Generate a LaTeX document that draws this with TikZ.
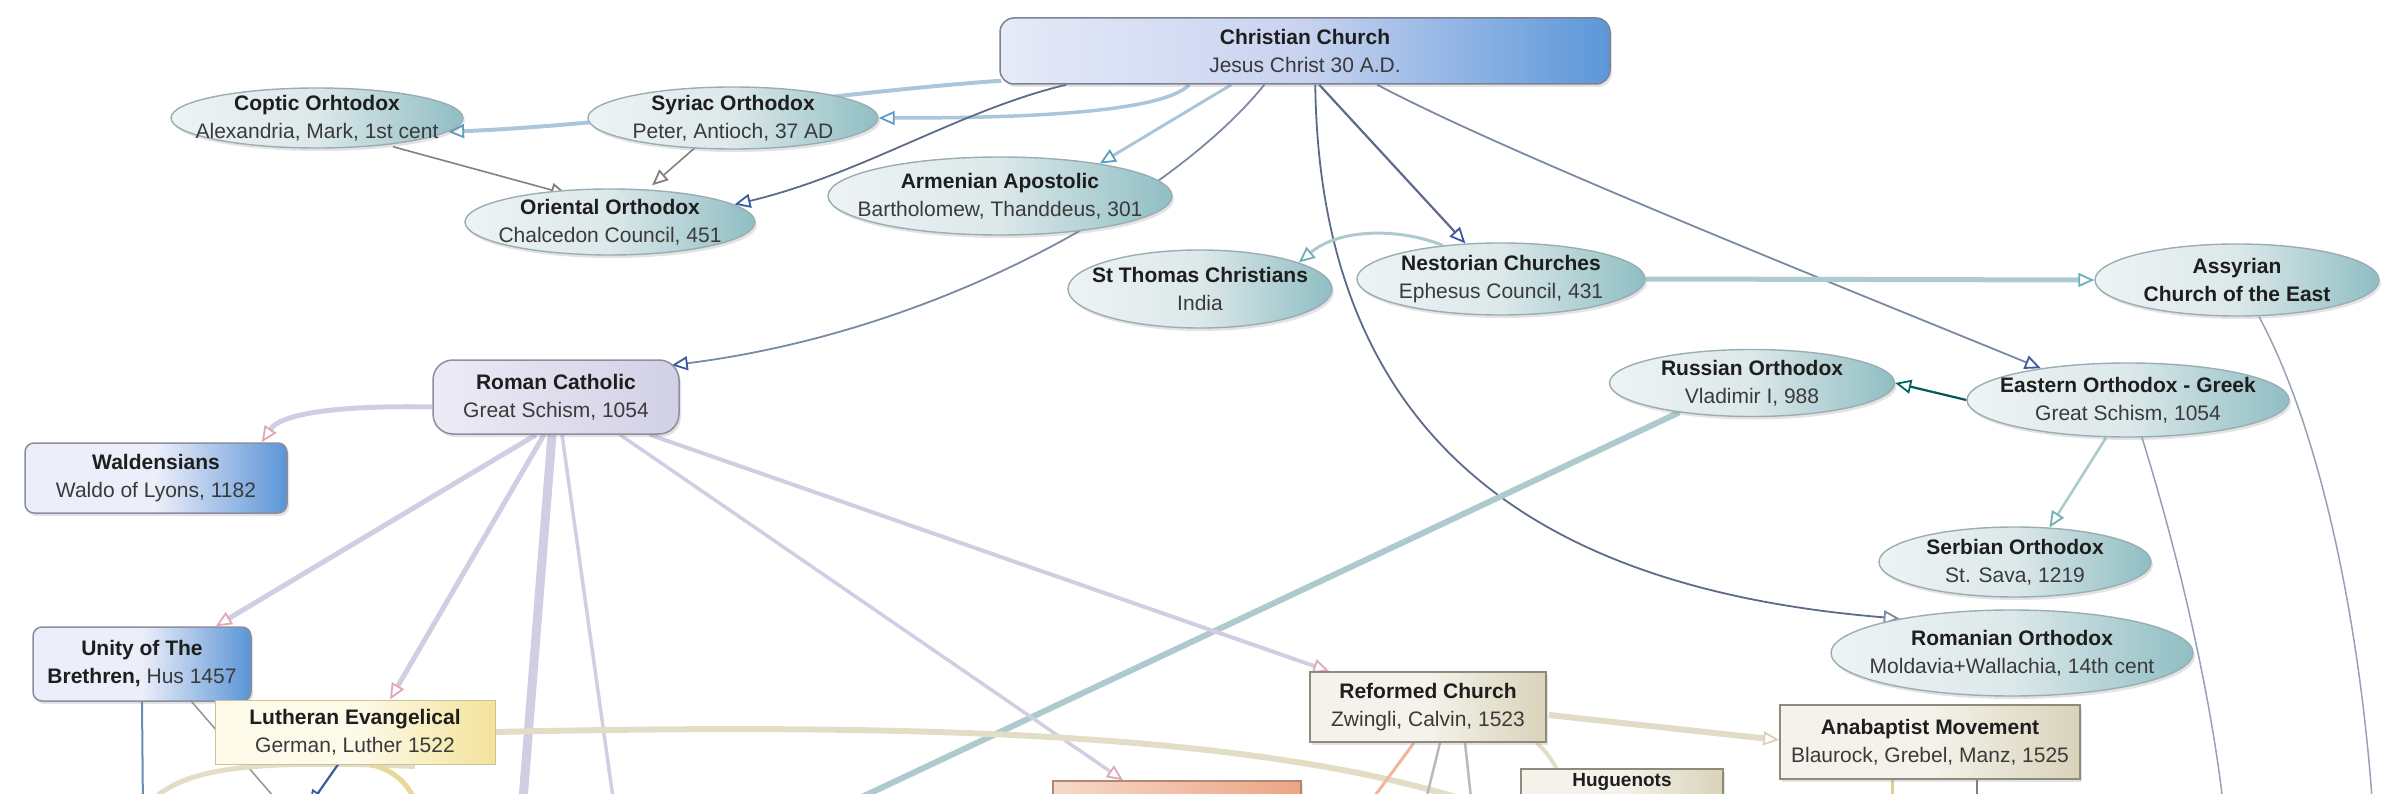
\documentclass[tikz,border=0pt]{standalone}
\usepackage{fontspec}
\setmainfont{Liberation Sans}
\usetikzlibrary{arrows.meta,shapes.geometric,shadows,calc}
\pgfdeclarelayer{bg}
\pgfsetlayers{bg,main}
\definecolor{ellL}{HTML}{EEF3F4}
\definecolor{ellM}{HTML}{DCE8EA}
\definecolor{ellR}{HTML}{8FBEC3}
\definecolor{ellB}{HTML}{9AADB2}
\definecolor{ccL}{HTML}{E6EAF8}
\definecolor{ccM}{HTML}{C8D3F0}
\definecolor{ccR}{HTML}{5B97D9}
\definecolor{ccB}{HTML}{7C8194}
\definecolor{rcL}{HTML}{ECEBF5}
\definecolor{rcR}{HTML}{D2D0E6}
\definecolor{rcB}{HTML}{8E8EA2}
\definecolor{blL}{HTML}{ECEEF9}
\definecolor{blR}{HTML}{5A95D6}
\definecolor{blB}{HTML}{8A8EA0}
\definecolor{luL}{HTML}{FDFAEA}
\definecolor{luR}{HTML}{F3E39A}
\definecolor{luB}{HTML}{C9C29B}
\definecolor{rfL}{HTML}{F4F2EA}
\definecolor{rfR}{HTML}{D9D3BA}
\definecolor{rfB}{HTML}{8F8B7A}
\definecolor{saL}{HTML}{F7D8C8}
\definecolor{saR}{HTML}{ECA584}
\definecolor{saB}{HTML}{B08878}
\definecolor{txA}{HTML}{1E1E1E}
\definecolor{txB}{HTML}{3A3A3A}
\definecolor{lvE}{HTML}{D0CEE2}
\definecolor{pkT}{HTML}{E2A6BC}
\definecolor{tealE}{HTML}{ADCACE}
\definecolor{tealT}{HTML}{6FB0B6}
\definecolor{lbE}{HTML}{ABC5DA}
\definecolor{lbT}{HTML}{5A9DC6}
\definecolor{dkE}{HTML}{5D6A8A}
\definecolor{dkT}{HTML}{3A5A9E}
\definecolor{gyE}{HTML}{7B8AA3}
\definecolor{bgE}{HTML}{E2DEC6}
\newcommand\ttl[2]{{\bfseries\color{txA}#1}\\{\color{txB}#2}}
\begin{document}
\begin{tikzpicture}[x=1pt,y=-1pt,
  shd/.style={drop shadow={shadow xshift=2pt,shadow yshift=-3pt,opacity=.22}},
  ell/.style={ellipse,draw=ellB,line width=1.4pt,left color=ellL,right color=ellR,middle color=ellM,inner sep=0pt,shd},
  txt/.style={align=center,inner sep=0pt,font=\fontsize{21}{28}\selectfont},
  ccbox/.style={rectangle,rounded corners=14pt,draw=ccB,line width=1.5pt,left color=ccL,right color=ccR,middle color=ccM,inner sep=0pt,shd,txt},
  rcbox/.style={rectangle,rounded corners=20pt,draw=rcB,line width=1.5pt,left color=rcL,right color=rcR,inner sep=0pt,shd,txt},
  blbox/.style={rectangle,rounded corners=9pt,draw=blB,line width=1.5pt,left color=blL,right color=blR,middle color=blL,inner sep=0pt,shd,txt},
  lubox/.style={rectangle,draw=luB,line width=1pt,left color=luL,right color=luR,middle color=luL,inner sep=0pt,txt},
  rfbox/.style={rectangle,draw=rfB,line width=1.5pt,left color=rfL,right color=rfR,middle color=rfL,inner sep=0pt,shd,txt},
  sabox/.style={rectangle,draw=saB,line width=1.5pt,left color=saL,right color=saR,inner sep=0pt,shd,txt},
  otip/.style={-{Triangle[length=16pt,width=14pt,line width=1.8pt,color=#1,fill=white]}},
  ln/.style 2 args={draw=#1,line width=#2},
]
\useasboundingbox (0,0) rectangle (2382,794);
\clip (0,0) rectangle (2382,794);
% ---------- nodes ----------
\node[ccbox,minimum width=610pt,minimum height=66pt] (cc) at (1305,51) {\ttl{Christian Church}{Jesus Christ 30 A.D.}};
\node[ell,minimum width=292pt,minimum height=60pt] (coptic) at (317,118) {};
\node[txt] (copticT) at (coptic) {\ttl{Coptic Orhtodox}{Alexandria, Mark, 1st cent}};
\node[ell,minimum width=290pt,minimum height=62pt] (syriac) at (733,118) {};
\node[txt] (syriacT) at (syriac) {\ttl{Syriac Orthodox}{Peter, Antioch, 37 AD}};
\node[ell,minimum width=290pt,minimum height=66pt] (oriental) at (610,222) {};
\node[txt] (orientalT) at (oriental) {\ttl{Oriental Orthodox}{Chalcedon Council, 451}};
\node[ell,minimum width=344pt,minimum height=78pt] (armenian) at (1000,196) {};
\node[txt] (armenianT) at (armenian) {\ttl{Armenian Apostolic}{Bartholomew, Thanddeus, 301}};
\node[ell,minimum width=264pt,minimum height=78pt] (stthomas) at (1200,289) {};
\node[txt] (stthomasT) at (stthomas) {\ttl{St Thomas Christians}{India}};
\node[ell,minimum width=288pt,minimum height=72pt] (nestorian) at (1501,279) {};
\node[txt] (nestorianT) at (nestorian) {\ttl{Nestorian Churches}{Ephesus Council, 431}};
\node[ell,minimum width=284pt,minimum height=72pt] (assyrian) at (2237,280) {};
\node[txt] (assyrianT) at (assyrian) {\ttl{Assyrian}{\bfseries\color{txA}Church of the East}};
\node[ell,minimum width=285pt,minimum height=67pt] (russian) at (1752,383) {};
\node[txt] (russianT) at (russian) {\ttl{Russian Orthodox}{Vladimir I, 988}};
\node[ell,minimum width=322pt,minimum height=74pt] (eastern) at (2128,400) {};
\node[txt] (easternT) at (eastern) {\ttl{Eastern Orthodox - Greek}{Great Schism, 1054}};
\node[ell,minimum width=272pt,minimum height=70pt] (serbian) at (2015,562) {};
\node[txt] (serbianT) at (serbian) {\ttl{Serbian Orthodox}{St. Sava, 1219}};
\node[ell,minimum width=362pt,minimum height=86pt] (romanian) at (2012,653) {};
\node[txt] (romanianT) at (romanian) {\ttl{Romanian Orthodox}{Moldavia+Wallachia, 14th cent}};
\node[rcbox,minimum width=246pt,minimum height=74pt] (rc) at (556,397) {\ttl{Roman Catholic}{Great Schism, 1054}};
\node[blbox,minimum width=262pt,minimum height=70pt] (wald) at (156,478) {\ttl{Waldensians}{Waldo of Lyons, 1182}};
\node[blbox,minimum width=218pt,minimum height=74pt] (unity) at (142,664) {{\bfseries\color{txA}Unity of The}\\{\bfseries\color{txA}Brethren,} {\color{txB}Hus 1457}};
\node[lubox,minimum width=280pt,minimum height=64pt] (luth) at (355,732) {\ttl{Lutheran Evangelical}{German, Luther 1522}};
\node[rfbox,minimum width=236pt,minimum height=70pt] (reformed) at (1428,707) {\ttl{Reformed Church}{Zwingli, Calvin, 1523}};
\node[rfbox,minimum width=300pt,minimum height=74pt] (anabap) at (1930,742) {\ttl{Anabaptist Movement}{Blaurock, Grebel, Manz, 1525}};
\node[sabox,minimum width=248pt,minimum height=72pt] (salmon) at (1177,817) {};
\node[rfbox,minimum width=202pt,minimum height=76pt] (hug) at (1622,807) {};
\node[txt,anchor=north,font=\fontsize{19}{24}\selectfont] (hugT) at (1622,773) {\bfseries\color{txA}Huguenots};
% free ends
\coordinate (eEnd) at (2224,812);
\coordinate (aEnd) at (2373,812);
\coordinate (rEnd) at (830,812);
\coordinate (rc1) at (522,812);
\coordinate (rc2) at (615,812);
\coordinate (luEnd) at (1512,816);
\coordinate (unV) at (143,812);
\coordinate (unD) at (292,818);
\coordinate (luA) at (309,806);
\coordinate (arcA) at (140,816);
\coordinate (arcB) at (421,816);
\coordinate (rf1) at (1360,816);
\coordinate (rf2) at (1422,816);
\coordinate (rf3) at (1473,816);
\coordinate (rf4) at (1570,816);
\coordinate (ab1) at (1892,816);
\coordinate (ab2) at (1977,816);
% ---------- connectors ----------
\begin{pgfonlayer}{bg}
\clip (0,0) rectangle (2382,794);
\draw[ln={lbE}{4pt},otip=lbT] ($(cc.south west)+(2,-4)$) .. controls (860,90) and (620,125) .. (coptic.-6);
\draw[ln={lbE}{3.5pt},otip=lbT] ($(cc.south west)+(190,0)$) .. controls (1160,115) and (1000,118) .. (syriac.east);
\draw[ln={dkE}{1.8pt},otip=dkT] ($(cc.south west)+(67,0)$) .. controls (960,110) and (860,175) .. (oriental.8);
\draw[ln={lbE}{3pt},otip=lbT] ($(cc.south west)+(232,0)$) -- (armenian.18);
\draw[ln={gyE}{1.8pt},otip=dkT] ($(cc.south west)+(265,0)$) .. controls (1180,190) and (950,330) .. ($(rc.north east)+(-8,6)$);
\draw[ln={dkE}{2.2pt},otip=dkT] ($(cc.south west)+(320,0)$) -- (nestorian.135);
\draw[ln={gyE}{1.8pt},otip=dkT] ($(cc.south west)+(378,0)$) .. controls (1500,150) and (1800,270) .. (eastern.160);
\draw[ln={dkE}{1.8pt},otip=gyE] ($(cc.south west)+(316,0)$) .. controls (1320,450) and (1550,590) .. (romanian.163);
% coptic / syriac to oriental
\draw[ln={gray}{1.6pt},otip=gray] ($(coptic.south)+(76,-2)$) -- ($(oriental.north west)+(60,-4)$);
\draw[ln={gray}{1.6pt},otip=gray] ($(syriac.south)+(-38,-2)$) -- ($(oriental.north)+(42,-3)$);
% nestorian branch
\draw[ln={tealE}{3pt},otip=tealT] (nestorian.150) .. controls (1400,228) and (1340,228) .. (stthomas.15);
\draw[ln={tealE}{5pt},otip=tealT] (nestorian.east) -- (assyrian.west);
% eastern branch
\draw[ln={teal!70!black}{2.2pt},otip=teal!80!black] (eastern.west) -- (russian.east);
\draw[ln={tealE}{2.6pt},otip=tealT] ($(eastern.south)+(-22,0)$) -- (serbian.45);
\draw[ln={gyE!80}{1.5pt}] ($(eastern.south)+(14,0)$) .. controls (2180,560) and (2212,700) .. (eEnd);
\draw[ln={gyE!80}{1.5pt}] ($(assyrian.south)+(22,0)$) .. controls (2320,430) and (2360,620) .. (aEnd);
\draw[ln={tealE}{6pt}] (russian.-158) -- (rEnd);
% roman catholic branch
\draw[ln={lvE}{5pt},otip=pkT] ($(rc.west)+(0,10)$) .. controls (330,405) and (280,415) .. ($(wald.north east)+(-26,0)$);
\draw[ln={lvE}{5pt},otip=pkT] ($(rc.south)+(-20,0)$) -- ($(unity.north east)+(-36,0)$);
\draw[ln={lvE}{5pt},otip=pkT] ($(rc.south)+(-12,0)$) -- ($(luth.north)+(35,0)$);
\draw[ln={lvE}{9pt}] ($(rc.south)+(-4,0)$) -- (rc1);
\draw[ln={lvE}{3.5pt}] ($(rc.south)+(6,0)$) -- (rc2);
\draw[ln={lvE}{3.5pt},otip=pkT] ($(rc.south)+(64,0)$) -- ($(salmon.north)+(-54,0)$);
\draw[ln={lvE}{4pt},otip=pkT] ($(rc.south east)+(-30,0)$) -- ($(reformed.north west)+(20,0)$);
% protestant area
\draw[ln={bgE}{6pt}] (luth.east) .. controls (950,722) and (1300,735) .. (luEnd);
\draw[ln={rfR!80}{6pt},otip=rfR] ($(reformed.east)+(2,8)$) -- ($(anabap.west)+(0,-2)$);
\draw[ln={blR!60!gray}{2pt}] (unity.south) -- (unV);
\draw[ln={gray!80}{1.6pt}] ($(unity.south east)+(-60,0)$) -- (unD);
\draw[ln={bgE}{5pt}] ($(luth.south)+(60,2)$) .. controls (250,760) and (170,765) .. (arcA);
\draw[ln={luR!90!gray}{5pt}] ($(luth.south)+(15,0)$) .. controls (395,770) and (412,785) .. (arcB);
\draw[ln={dkT}{2.2pt},otip=dkT] ($(luth.south)+(-17,0)$) -- (luA);
\draw[ln={saR!80}{3pt}] ($(reformed.south)+(-14,0)$) -- (rf1);
\draw[ln={gray!55}{2.5pt}] ($(reformed.south)+(12,0)$) -- (rf2);
\draw[ln={gray!55}{2.5pt}] ($(reformed.south)+(37,0)$) -- (rf3);
\draw[ln={bgE}{4pt}] ($(reformed.south east)+(-10,0)$) .. controls (1555,760) and (1565,780) .. (rf4);
\draw[ln={luR!80!gray}{3pt}] ($(anabap.south)+(-38,0)$) -- (ab1);
\draw[ln={gray}{1.5pt}] ($(anabap.south)+(47,0)$) -- (ab2);
\end{pgfonlayer}
\end{tikzpicture}
\end{document}
